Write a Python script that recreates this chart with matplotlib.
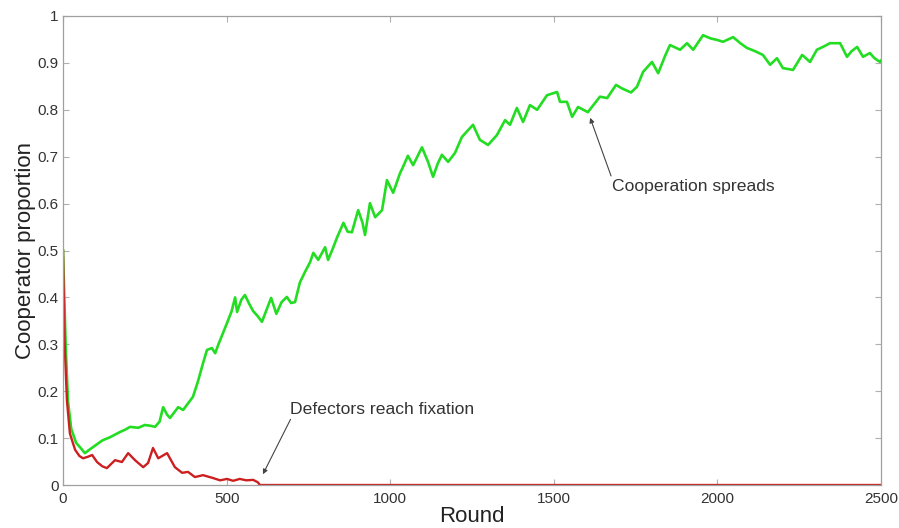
import matplotlib
matplotlib.use("Agg")
import matplotlib.pyplot as plt

plt.rcParams['font.family'] = ['Liberation Sans', 'DejaVu Sans']

# Cooperator proportion (green)
coop_rounds = [0, 8, 15, 25, 40, 55, 67, 80, 100, 120, 144, 160, 174, 190, 205, 230, 250, 270, 281,
               295, 306, 318, 327, 340, 352, 367, 380, 397, 412, 428, 440, 455, 465, 475, 501, 515,
               526, 532, 545, 556, 570, 581, 595, 608, 620, 636, 652, 668, 684, 697, 709, 724, 740,
               755, 765, 780, 801, 810, 825, 837, 857, 870, 883, 902, 915, 923, 938, 954, 975, 990,
               1009, 1030, 1039, 1054, 1070, 1097, 1115, 1131, 1145, 1158, 1177, 1198, 1219, 1253,
               1274, 1299, 1326, 1351, 1366, 1387, 1406, 1427, 1449, 1479, 1510, 1519, 1540, 1556,
               1574, 1604, 1641, 1663, 1690, 1710, 1736, 1754, 1773, 1800, 1819, 1840, 1855, 1886,
               1907, 1926, 1956, 1980, 1999, 2017, 2048, 2070, 2090, 2115, 2139, 2161, 2182, 2200,
               2231, 2259, 2283, 2304, 2325, 2344, 2375, 2396, 2410, 2427, 2445, 2466, 2480, 2497, 2500]
coop_values = [0.50, 0.30, 0.18, 0.12, 0.09, 0.078, 0.068, 0.075, 0.085, 0.095, 0.102, 0.108, 0.113,
               0.118, 0.124, 0.122, 0.128, 0.126, 0.124, 0.135, 0.166, 0.150, 0.143, 0.155, 0.166,
               0.160, 0.172, 0.188, 0.220, 0.260, 0.288, 0.292, 0.281, 0.300, 0.345, 0.370, 0.400,
               0.369, 0.395, 0.405, 0.385, 0.371, 0.360, 0.348, 0.370, 0.399, 0.365, 0.390, 0.401,
               0.388, 0.390, 0.432, 0.455, 0.475, 0.495, 0.480, 0.507, 0.480, 0.505, 0.527, 0.559,
               0.540, 0.539, 0.586, 0.560, 0.533, 0.601, 0.571, 0.586, 0.650, 0.623, 0.665, 0.678,
               0.702, 0.682, 0.720, 0.690, 0.657, 0.685, 0.704, 0.689, 0.708, 0.742, 0.768, 0.736,
               0.725, 0.746, 0.778, 0.768, 0.804, 0.774, 0.810, 0.800, 0.831, 0.838, 0.817, 0.817,
               0.785, 0.806, 0.795, 0.828, 0.825, 0.853, 0.845, 0.837, 0.849, 0.881, 0.902, 0.878,
               0.915, 0.938, 0.928, 0.942, 0.928, 0.959, 0.952, 0.949, 0.945, 0.955, 0.942, 0.932,
               0.925, 0.917, 0.896, 0.910, 0.889, 0.885, 0.917, 0.902, 0.928, 0.935, 0.942, 0.942,
               0.913, 0.925, 0.934, 0.913, 0.921, 0.910, 0.902, 0.905]

# Defector proportion (red)
def_rounds = [0, 5, 12, 21, 30, 37, 50, 61, 75, 89, 104, 120, 134, 159, 180, 199, 220, 245, 260,
              275, 291, 318, 342, 364, 382, 403, 428, 458, 480, 501, 520, 540, 560, 581, 595, 602, 2500]
def_values = [0.50, 0.30, 0.18, 0.11, 0.09, 0.075, 0.062, 0.057, 0.060, 0.064, 0.049, 0.040, 0.036,
              0.053, 0.049, 0.068, 0.053, 0.038, 0.047, 0.079, 0.057, 0.068, 0.038, 0.026, 0.028,
              0.017, 0.021, 0.015, 0.010, 0.013, 0.009, 0.013, 0.010, 0.011, 0.006, 0.0, 0.0]

x_ticks = [0, 500, 1000, 1500, 2000, 2500]
x_tick_labels = ['0', '500', '1000', '1500', '2000', '2500']
y_ticks = [0, 0.1, 0.2, 0.3, 0.4, 0.5, 0.6, 0.7, 0.8, 0.9, 1]
y_tick_labels = ['0', '0.1', '0.2', '0.3', '0.4', '0.5', '0.6', '0.7', '0.8', '0.9', '1']

fig = plt.figure(figsize=(8.99, 5.28), dpi=100)
ax = fig.add_axes([0.0701, 0.0814, 0.9099, 0.8883])

ax.plot(coop_rounds, coop_values, color='#22dd22', lw=1.9, solid_joinstyle='round')
ax.plot(def_rounds, def_values, color='#cc2020', lw=1.7, solid_joinstyle='round')

ax.set_xlim(0, 2500)
ax.set_ylim(0, 1)
ax.set_xticks(x_ticks)
ax.set_xticklabels(x_tick_labels)
ax.set_yticks(y_ticks)
ax.set_yticklabels(y_tick_labels)

for s in ax.spines.values():
    s.set_color('#a0a0a0')
    s.set_linewidth(0.9)
ax.tick_params(direction='in', length=4, width=0.8, color='#b0b0b0',
               labelsize=11, labelcolor='#333333', top=True, right=True)
ax.tick_params(axis='x', pad=5)
ax.tick_params(axis='y', pad=3)

ax.set_xlabel('Round', fontsize=16, color='#222222', labelpad=0)
ax.set_ylabel('Cooperator proportion', fontsize=16, color='#222222', labelpad=1)

ax.annotate('Cooperation spreads', xy=(1611, 0.783), xytext=(1678, 0.637),
            fontsize=12.6, color='#333333', va='center', ha='left',
            arrowprops=dict(arrowstyle='-|>', color='#444444', lw=0.8, mutation_scale=7,
                            shrinkA=0, shrinkB=0, relpos=(0.0, 1.0)))
ax.annotate('Defectors reach fixation', xy=(611, 0.023), xytext=(694, 0.162),
            fontsize=12.6, color='#333333', va='center', ha='left',
            arrowprops=dict(arrowstyle='-|>', color='#444444', lw=0.8, mutation_scale=7,
                            shrinkA=0, shrinkB=0, relpos=(0.01, 0.0)))

fig.savefig('out.png', dpi=100)
